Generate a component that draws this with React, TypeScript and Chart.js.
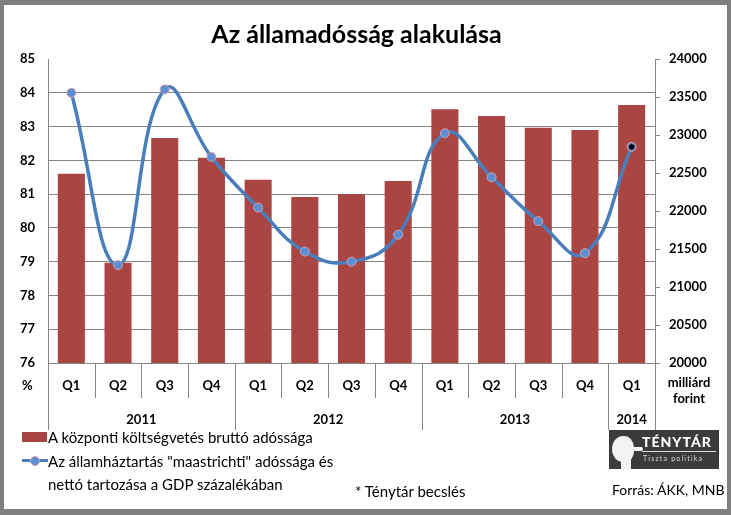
import React, { useEffect, useRef } from "react";
import { Chart, registerables } from "chart.js";

Chart.register(...registerables);

const categories = ["Q1", "Q2", "Q3", "Q4", "Q1", "Q2", "Q3", "Q4", "Q1", "Q2", "Q3", "Q4", "Q1"];
const years = ["2011", "2012", "2013", "2014"];
const yearSpans = [4, 4, 4, 1];
const debtBillions = [22490, 21320, 22960, 22700, 22410, 22185, 22225, 22395, 23340, 23250, 23095, 23065, 23395];
const gdpPercent = [84.0, 78.9, 84.1, 82.1, 80.6, 79.3, 79.0, 79.8, 82.8, 81.5, 80.2, 79.25, 82.4];
const estimateFlag = [false, false, false, false, false, false, false, false, false, false, false, false, true];

const FONT = "Lato, 'Liberation Sans', sans-serif";
const GRID = "#878787";
const BAR = "#A94543";
const LINE = "#4A7EBB";

const xAxisPlugin = {
  id: "groupedXAxis",
  afterDraw(chart: any) {
    const ctx = chart.ctx;
    const x = chart.scales.x;
    const area = chart.chartArea;
    const n = categories.length;
    const slot = (area.right - area.left) / n;
    ctx.save();
    ctx.strokeStyle = GRID;
    ctx.lineWidth = 1;
    const boundaries = new Set<number>([0]);
    let acc = 0;
    yearSpans.forEach((s) => {
      acc += s;
      boundaries.add(acc);
    });
    for (let i = 0; i <= n; i++) {
      const px = Math.round(area.left + i * slot) + 0.5;
      const bottom = boundaries.has(i) ? area.bottom + 67 : area.bottom + 35;
      ctx.beginPath();
      ctx.moveTo(px, area.bottom);
      ctx.lineTo(px, bottom);
      ctx.stroke();
    }
    ctx.fillStyle = "#000";
    ctx.font = `bold 13px ${FONT}`;
    ctx.textAlign = "center";
    ctx.textBaseline = "middle";
    categories.forEach((c, i) => {
      ctx.fillText(c, x.getPixelForValue(i), area.bottom + 23);
    });
    let start = 0;
    years.forEach((y, k) => {
      const end = start + yearSpans[k];
      const cx = area.left + ((start + end) / 2) * slot;
      ctx.fillText(y, cx, area.bottom + 57);
      start = end;
    });
    ctx.restore();
  },
};

export default function App() {
  const ref = useRef<HTMLCanvasElement | null>(null);
  useEffect(() => {
    document.body.style.margin = "0";
    if (!ref.current) return;
    Chart.defaults.font.family = FONT;
    const chart = new Chart(ref.current, {
      type: "bar",
      data: {
        labels: categories,
        datasets: [
          {
            type: "line",
            label: "estimate",
            data: gdpPercent.map((v, i) => (estimateFlag[i] ? v : null)),
            yAxisID: "y",
            showLine: false,
            pointStyle: "star",
            pointRadius: 3,
            pointBorderColor: "#000",
            pointBorderWidth: 1.5,
            order: -1,
          } as any,
          {
            type: "line",
            label: "Az államháztartás \"maastrichti\" adóssága és nettó tartozása a GDP százalékában",
            data: gdpPercent,
            yAxisID: "y",
            borderColor: LINE,
            borderWidth: 3.5,
            tension: 0.45,
            pointRadius: 4.5,
            pointBackgroundColor: "#5B8FD4",
            pointBorderColor: "#D9A0A8",
            pointBorderWidth: 1,
            order: 0,
          } as any,
          {
            type: "bar",
            label: "A központi költségvetés bruttó adóssága",
            data: debtBillions,
            yAxisID: "y1",
            backgroundColor: BAR,
            barPercentage: 0.58,
            categoryPercentage: 1,
            order: 1,
          } as any,
        ],
      },
      options: {
        responsive: false,
        animation: false,
        layout: { padding: { top: 59, bottom: 152, left: 0, right: 0 } },
        plugins: { legend: { display: false }, tooltip: { enabled: false }, title: { display: false } },
        scales: {
          x: { display: false, offset: true },
          y: {
            position: "left",
            min: 76,
            max: 85,
            ticks: { stepSize: 1, color: "#000", font: { size: 13, weight: "bold" }, padding: 13, callback: (v: any) => String(v) },
            grid: {
              color: (c: any) => (c.tick && c.tick.value === 85 ? "rgba(0,0,0,0)" : GRID),
              drawTicks: false,
              lineWidth: 1,
            },
            border: { display: true, color: GRID },
            afterFit: (s: any) => {
              s.width = 48;
            },
          },
          y1: {
            position: "right",
            min: 20000,
            max: 24000,
            ticks: { stepSize: 500, color: "#000", font: { size: 13, weight: "bold" }, padding: 9, callback: (v: any) => String(v) },
            grid: { drawOnChartArea: false, drawTicks: true, tickLength: 5, color: GRID },
            border: { display: true, color: GRID },
            afterFit: (s: any) => {
              s.width = 76;
            },
          },
        },
      } as any,
      plugins: [xAxisPlugin],
    });
    return () => chart.destroy();
  }, []);

  const abs = (s: React.CSSProperties): React.CSSProperties => ({ position: "absolute", ...s });
  const txt: React.CSSProperties = { fontFamily: FONT, color: "#000", whiteSpace: "nowrap" };

  return (
    <div style={{ position: "relative", width: 731, height: 515, background: "#7F7F7F", overflow: "hidden" }}>
      <div style={abs({ left: 4, top: 5, width: 723, height: 504, background: "#fff" })} />
      <canvas ref={ref} width={731} height={515} style={abs({ left: 0, top: 0, width: 731, height: 515 })} />
      <div style={abs({ ...txt, left: -9, width: 731, top: 18, textAlign: "center", fontSize: 25, fontWeight: 700, lineHeight: "30px" })}>
        Az államadósság alakulása
      </div>
      <div style={abs({ ...txt, left: 22, top: 377, fontSize: 13, fontWeight: 700, lineHeight: "16px" })}>%</div>
      <div style={abs({ ...txt, left: 650, width: 78, top: 374, textAlign: "center", fontSize: 13, fontWeight: 700, lineHeight: "16px" })}>
        milliárd
        <br />
        forint
      </div>
      {/* legend */}
      <div style={abs({ left: 22, top: 432, width: 25, height: 10, background: BAR })} />
      <div style={abs({ ...txt, left: 48, top: 428, fontSize: 15, lineHeight: "18px" })}>A központi költségvetés bruttó adóssága</div>
      <div style={abs({ left: 22, top: 459, width: 26, height: 3, background: LINE })} />
      <div
        style={abs({
          left: 30,
          top: 456,
          width: 8,
          height: 8,
          borderRadius: "50%",
          background: "#5B8FD4",
          border: "1px solid #D9A0A8",
        })}
      />
      <div style={abs({ ...txt, left: 48, top: 450, fontSize: 15, lineHeight: "23px" })}>
        Az államháztartás "maastrichti" adóssága és
        <br />
        nettó tartozása a GDP százalékában
      </div>
      <div style={abs({ ...txt, left: 355, top: 482, fontSize: 15, lineHeight: "18px" })}>* Ténytár becslés</div>
      <div style={abs({ ...txt, left: 612, top: 481, fontSize: 14, lineHeight: "18px" })}>Forrás: ÁKK, MNB</div>
      {/* logo */}
      <div style={abs({ left: 609, top: 430, width: 110, height: 39, background: "#3B3B3B", overflow: "hidden" })}>
        <div style={abs({ left: 3, top: 6, width: 22, height: 26, background: "#F2F2F2", borderRadius: "50% 45% 40% 50%" })} />
        <div style={abs({ left: 12, top: 26, width: 10, height: 13, background: "#F2F2F2" })} />
        <div style={abs({ left: 20, top: 17, width: 14, height: 4, background: "#F2F2F2", borderRadius: 2 })} />
        <div style={abs({ ...txt, color: "#fff", left: 33, top: 4, fontSize: 14, fontWeight: 900, letterSpacing: 1, lineHeight: "16px" })}>
          TÉNYTÁR
        </div>
        <div style={abs({ left: 33, top: 21, width: 74, height: 1, background: "#ddd" })} />
        <div style={abs({ ...txt, color: "#ddd", left: 34, top: 24, fontSize: 7, letterSpacing: 1.2, lineHeight: "9px" })}>
          Tiszta politika
        </div>
      </div>
    </div>
  );
}
